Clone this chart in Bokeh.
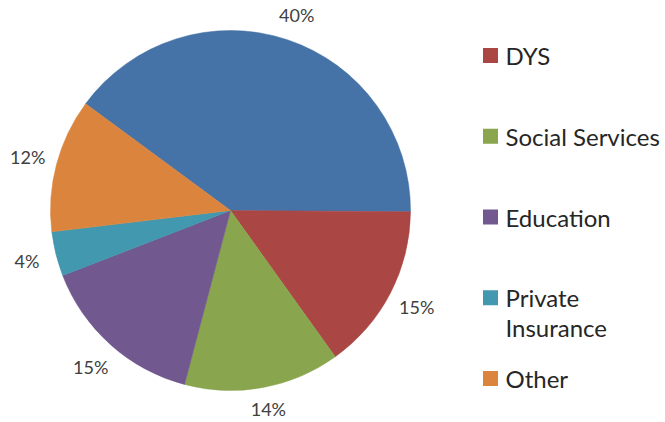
import math
from bokeh.plotting import figure
from bokeh.models import ColumnDataSource
from bokeh.core.properties import value
from bokeh.embed import file_html
from bokeh.resources import INLINE

# ---- data ----
categories = ["(first series)", "DYS", "Social Services", "Education", "Private\nInsurance", "Other"]
shares = [40, 15, 14, 15, 4, 12]
colors = ["#4572A7", "#AA4643", "#89A54E", "#71588F", "#4198AF", "#DB843D"]
legend_shown = [False, True, True, True, True, True]

W, H = 665, 422
p = figure(width=W, height=H, x_range=(0, W), y_range=(0, H),
           output_backend="svg", toolbar_location=None, min_border=0,
           outline_line_color=None)
p.axis.visible = False
p.grid.visible = False
p.background_fill_color = "white"

cx, cy, R = 230, 212, 180
first_angle = 143.6  # degrees, slices run clockwise
total = float(sum(shares))

starts, ends, lx, ly, ltxt = [], [], [], [], []
cum = 0.0
for s in shares:
    a_hi = math.radians(first_angle - 360 * cum / total)
    cum += s
    a_lo = math.radians(first_angle - 360 * cum / total)
    starts.append(a_lo)
    ends.append(a_hi)
    mid = (a_lo + a_hi) / 2
    lx.append(cx + 1.165 * R * math.cos(mid))
    # keep labels inside the canvas
    ly.append(min(max(cy + 1.165 * R * math.sin(mid), 14), H - 14))
    ltxt.append(f"{round(100 * s / total)}%")

src = ColumnDataSource(dict(start=starts, end=ends, color=colors))
p.wedge(x=cx, y=cy, radius=R, start_angle="start", end_angle="end",
        fill_color="color", line_color="color", line_width=0.5, source=src)

p.text(x=lx, y=ly, text=ltxt, text_font=value("Lato"), text_font_size="18px",
       text_color="#404040", text_align="center", text_baseline="middle")

# ---- legend (drawn manually) ----
leg_x, leg_top, leg_step, line_h = 490, 367, 80.75, 30
sq_x, sq_y, sq_c, tx, ty, tt = [], [], [], [], [], []
k = 0
for cat, col, show in zip(categories, colors, legend_shown):
    if not show:
        continue
    yy = leg_top - k * leg_step
    sq_x.append(leg_x)
    sq_y.append(yy)
    sq_c.append(col)
    for j, line in enumerate(cat.split("\n")):
        tx.append(leg_x + 15)
        ty.append(yy - j * line_h)
        tt.append(line)
    k += 1

p.scatter(x=sq_x, y=sq_y, marker="square", size=15, fill_color=sq_c, line_color=None)
p.text(x=tx, y=ty, text=tt, text_font=value("Lato"), text_font_size="24px",
       text_color="#262626", text_align="left", text_baseline="middle")

open("out.html", "w").write(file_html(p, INLINE))
